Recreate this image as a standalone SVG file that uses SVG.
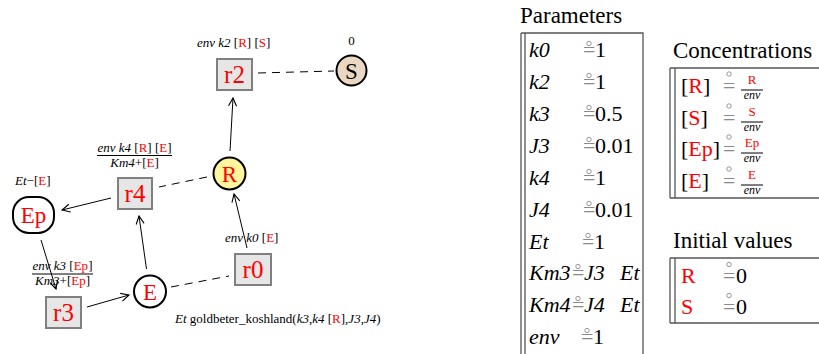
<svg xmlns="http://www.w3.org/2000/svg" width="819" height="354" viewBox="0 0 819 354">
<style>
text{font-family:"Liberation Serif","Times New Roman",serif;fill:#000}
.lbl{font-size:13px}
.it{font-style:italic}
.red{fill:#ff0000}
.rx{fill:#e6e6e6;stroke:#808080;stroke-width:2}
.rt{font-size:25px;fill:#ff0000;text-anchor:middle}
.sp{stroke:#000;stroke-width:2}
.st{font-size:23px;fill:#ff0000;text-anchor:middle}
.arr{stroke:#000;stroke-width:1;fill:none;marker-end:url(#ah)}
.dash{stroke:#000;stroke-width:1;fill:none;stroke-dasharray:8,6}
.tt{font-size:23px}
.tb{font-size:22px}
.eq{fill:#8a8a8a}
.ring{fill:none;stroke:#8a8a8a;stroke-width:0.9}
.bd{stroke:#555;stroke-width:1.3;fill:none}
.fr{font-size:13px;text-anchor:middle}
.fd{font-size:12px;text-anchor:middle;font-style:italic}
</style>
<defs>
<marker id="ah" viewBox="0 0 10 10" refX="9" refY="5" markerWidth="10" markerHeight="10" orient="auto" markerUnits="userSpaceOnUse">
<path d="M1,1 L9,5 L1,9" fill="none" stroke="#000" stroke-width="1.1"/>
</marker>
</defs>

<g id="connectors">
<line class="arr" x1="230" y1="151" x2="233" y2="98"/>
<line class="arr" x1="247" y1="248" x2="234" y2="194"/>
<line class="arr" x1="111" y1="198" x2="62" y2="210"/>
<line class="arr" x1="41" y1="240" x2="56" y2="289"/>
<line class="arr" x1="87" y1="307" x2="129" y2="295"/>
<line class="arr" x1="146.5" y1="269" x2="139" y2="216"/>
<line class="dash" x1="258" y1="73" x2="334" y2="71"/>
<line class="dash" x1="207" y1="177" x2="159" y2="187"/>
<line class="dash" x1="171" y1="287" x2="229" y2="276"/>
</g>

<g id="r2">
<rect class="rx" x="217" y="59" width="35" height="31"/>
<text class="rt" x="234.5" y="83">r2</text>
<text class="lbl" x="197" y="47"><tspan class="it">env k2</tspan> [<tspan class="red">R</tspan>] [<tspan class="red">S</tspan>]</text>
</g>

<g id="S">
<circle class="sp" cx="351.5" cy="70.5" r="15" fill="#ead8c4"/>
<text class="st" x="351.5" y="78.5" style="fill:#000">S</text>
<text class="lbl" x="351.5" y="45" text-anchor="middle">0</text>
</g>

<g id="R">
<circle class="sp" cx="229.5" cy="173.5" r="16" fill="#fff59d"/>
<text class="st" x="229.5" y="181.5">R</text>
</g>

<g id="r4">
<rect class="rx" x="118" y="178" width="34" height="31"/>
<text class="rt" x="135" y="202">r4</text>
<text class="fr" x="134.5" y="152"><tspan class="it">env k4</tspan> [<tspan class="red">R</tspan>] [<tspan class="red">E</tspan>]</text>
<line x1="97" y1="155.5" x2="172" y2="155.5" stroke="#000" stroke-width="1"/>
<text class="fr" x="134.5" y="166.5"><tspan class="it">Km4</tspan>+[<tspan class="red">E</tspan>]</text>
</g>

<g id="Ep">
<rect class="sp" x="13" y="197" width="41" height="36" rx="16" fill="#fff"/>
<text class="st" x="33.5" y="222.5">Ep</text>
<text class="lbl" x="15" y="185"><tspan class="it">Et</tspan>−[<tspan class="red">E</tspan>]</text>
</g>

<g id="r3">
<rect class="rx" x="46" y="297" width="35" height="31"/>
<text class="rt" x="63.5" y="321">r3</text>
<text class="fr" x="62.5" y="270"><tspan class="it">env k3</tspan> [<tspan class="red">Ep</tspan>]</text>
<line x1="32" y1="274" x2="93" y2="274" stroke="#000" stroke-width="1"/>
<text class="fr" x="62.5" y="284.5"><tspan class="it">Km3</tspan>+[<tspan class="red">Ep</tspan>]</text>
</g>

<g id="E">
<circle class="sp" cx="150" cy="291.5" r="16" fill="#fff"/>
<text class="st" x="150" y="299.5">E</text>
<text class="lbl" x="175" y="323"><tspan class="it">Et</tspan> goldbeter_koshland(<tspan class="it">k3</tspan>,<tspan class="it">k4</tspan> [<tspan class="red">R</tspan>],<tspan class="it">J3</tspan>,<tspan class="it">J4</tspan>)</text>
</g>

<g id="r0">
<rect class="rx" x="235" y="254" width="36" height="31"/>
<text class="rt" x="253" y="278">r0</text>
<text class="lbl" x="225" y="242"><tspan class="it">env k0</tspan> [<tspan class="red">E</tspan>]</text>
</g>

<g id="parameters">
<text class="tt" x="520" y="23">Parameters</text>
<path class="bd" d="M521,33 V354 M525,33 V354 M521,33 H643 V354"/>
<g class="tb">
<text class="it" x="529" y="57">k0</text>
<text class="it" x="529" y="89">k2</text>
<text class="it" x="529" y="121">k3</text>
<text class="it" x="529" y="153">J3</text>
<text class="it" x="529" y="185">k4</text>
<text class="it" x="529" y="217">J4</text>
<text class="it" x="529" y="249">Et</text>
<text class="it" x="529" y="280">Km3</text>
<text class="it" x="529" y="312">Km4</text>
<text class="it" x="529" y="344">env</text>
<text class="eq" x="583" y="57">=</text><circle class="ring" cx="589" cy="43.5" r="2.2"/>
<text class="eq" x="583" y="89">=</text><circle class="ring" cx="589" cy="75.5" r="2.2"/>
<text class="eq" x="583" y="121">=</text><circle class="ring" cx="589" cy="107.5" r="2.2"/>
<text class="eq" x="583" y="153">=</text><circle class="ring" cx="589" cy="139.5" r="2.2"/>
<text class="eq" x="583" y="185">=</text><circle class="ring" cx="589" cy="171.5" r="2.2"/>
<text class="eq" x="583" y="217">=</text><circle class="ring" cx="589" cy="203.5" r="2.2"/>
<text class="eq" x="582" y="249">=</text><circle class="ring" cx="588" cy="235.5" r="2.2"/>
<text class="eq" x="572" y="280">=</text><circle class="ring" cx="578" cy="266.5" r="2.2"/>
<text class="eq" x="572" y="312">=</text><circle class="ring" cx="578" cy="298.5" r="2.2"/>
<text class="eq" x="581" y="344">=</text><circle class="ring" cx="587" cy="330.5" r="2.2"/>
<text x="595" y="57">1</text>
<text x="595" y="89">1</text>
<text x="595" y="121">0.5</text>
<text x="595" y="153">0.01</text>
<text x="595" y="185">1</text>
<text x="595" y="217">0.01</text>
<text x="594" y="249">1</text>
<text class="it" x="584" y="280">J3</text><text class="it" x="620" y="280">Et</text>
<text class="it" x="584" y="312">J4</text><text class="it" x="620" y="312">Et</text>
<text x="593" y="344">1</text>
</g>
</g>

<g id="concentrations">
<text class="tt" x="673" y="58">Concentrations</text>
<path class="bd" d="M670,68 V198 M675,68 V198 M670,68 H819 M670,198 H819"/>
<g class="tb">
<text x="681" y="93">[<tspan class="red">R</tspan>]</text>
<text x="681" y="125">[<tspan class="red">S</tspan>]</text>
<text x="681" y="156">[<tspan class="red">Ep</tspan>]</text>
<text x="681" y="188">[<tspan class="red">E</tspan>]</text>
<text class="eq" x="723" y="93">=</text><circle class="ring" cx="729" cy="74" r="2.2"/>
<text class="eq" x="723" y="125">=</text><circle class="ring" cx="729" cy="106" r="2.2"/>
<text class="eq" x="723" y="156">=</text><circle class="ring" cx="729" cy="137" r="2.2"/>
<text class="eq" x="723" y="188">=</text><circle class="ring" cx="729" cy="169" r="2.2"/>
</g>
<text class="fr red" x="752" y="84">R</text>
<line x1="741" y1="90" x2="763" y2="90" stroke="#000" stroke-width="1"/>
<text class="fd" x="752" y="99">env</text>
<text class="fr red" x="752" y="116">S</text>
<line x1="741" y1="122" x2="763" y2="122" stroke="#000" stroke-width="1"/>
<text class="fd" x="752" y="131">env</text>
<text class="fr red" x="752" y="147">Ep</text>
<line x1="741" y1="153" x2="763" y2="153" stroke="#000" stroke-width="1"/>
<text class="fd" x="752" y="162">env</text>
<text class="fr red" x="752" y="179">E</text>
<line x1="741" y1="185" x2="763" y2="185" stroke="#000" stroke-width="1"/>
<text class="fd" x="752" y="194">env</text>
</g>

<g id="initial-values">
<text class="tt" x="673" y="248">Initial values</text>
<path class="bd" d="M670,258 V323 M675,258 V323 M670,258 H819 M670,323 H819"/>
<g class="tb">
<text class="red" x="681" y="283">R</text>
<text class="red" x="681" y="314">S</text>
<text class="eq" x="723" y="283">=</text><circle class="ring" cx="729" cy="264.5" r="2.2"/>
<text class="eq" x="723" y="314">=</text><circle class="ring" cx="729" cy="295.5" r="2.2"/>
<text x="736" y="283">0</text>
<text x="736" y="314">0</text>
</g>
</g>
</svg>
